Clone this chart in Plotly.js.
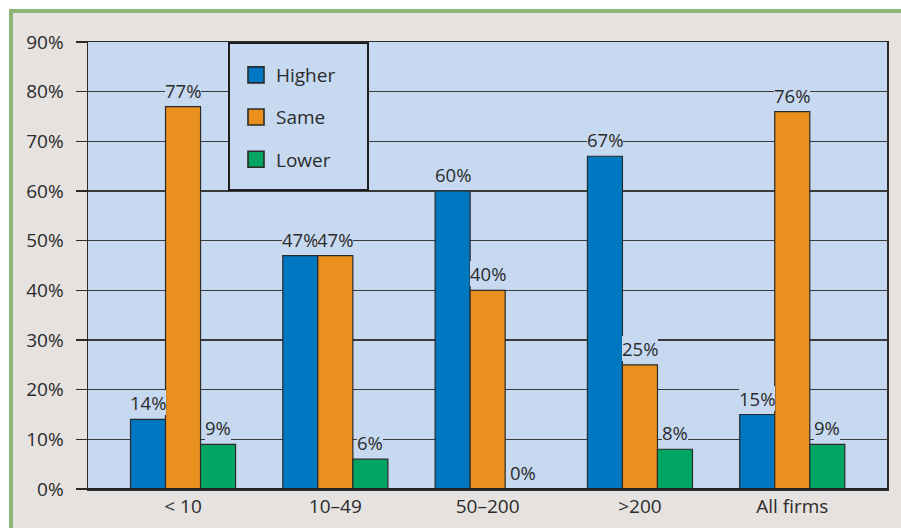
<!DOCTYPE html>
<html>
<head>
<meta charset="utf-8">
<script src="https://cdn.plot.ly/plotly-3.0.1.min.js"></script>
<style>
  html, body { margin: 0; padding: 0; background: #ffffff; }
  #wrap { position: relative; width: 901px; height: 528px; overflow: hidden; background: #ffffff; }
  #frame { position: absolute; left: 9px; top: 9px; right: 0; bottom: 0;
           border-top: 4px solid #8db576; border-left: 4px solid #8db576; background: #e6e2df; }
  #chart { position: absolute; left: 0; top: 0; width: 901px; height: 528px; }
</style>
</head>
<body>
<div id="wrap">
  <div id="frame"></div>
  <div id="chart"></div>
</div>
<script>
// ---- data ----
const categories = ['< 10', '10\u201349', '50\u2013200', '>200', 'All firms'];
const seriesNames = ['Higher', 'Same', 'Lower'];
const higher = [14, 47, 60, 67, 15];
const same   = [77, 47, 40, 25, 76];
const lower  = [9, 6, 0, 8, 9];
const yTickVals = [0, 10, 20, 30, 40, 50, 60, 70, 80, 90];
const yTickText = ['0%', '10%', '20%', '30%', '40%', '50%', '60%', '70%', '80%', '90%'];

// ---- style ----
const colors = ['#0077c1', '#e9901f', '#00a562'];
const plotBg = '#c6d9f1';
const ink = '#2b2b2b';
const FONT = '"Open Sans", "Noto Sans", sans-serif';
const W = 901, H = 528;
const margin = {l: 88, r: 14, t: 42, b: 39};
const xRange = [-0.624, 4.622];
const bargap = 0.31;

const values = [higher, same, lower];
const traces = values.map((v, i) => ({
  type: 'bar', name: seriesNames[i], x: categories, y: v,
  marker: {color: colors[i], line: {color: ink, width: 1.2}},
  showlegend: false, hoverinfo: 'skip'
}));
// legend entries (larger square swatches)
seriesNames.forEach((n, i) => traces.push({
  type: 'scatter', mode: 'markers', name: n, x: [null], y: [null],
  legendgroup: 'g' + i, showlegend: true,
  marker: {symbol: 'square', size: 16, color: colors[i], line: {color: ink, width: 1.6}},
  hoverinfo: 'skip'
}));

// value labels
const plotW = W - margin.l - margin.r;
const pxPerCat = plotW / (xRange[1] - xRange[0]);
const barPx = pxPerCat * (1 - bargap) / 3;
const annotations = [];
values.forEach((v, i) => {
  v.forEach((val, j) => {
    annotations.push({
      x: categories[j], y: val, xref: 'x', yref: 'y',
      text: val + '%', showarrow: false,
      xshift: (i - 1) * barPx, yshift: 4,
      yanchor: 'bottom', xanchor: 'center',
      bgcolor: plotBg, borderpad: 0, borderwidth: 0,
      font: {family: FONT, size: 18.5, color: ink}
    });
  });
});

// legend box (pixel geometry converted to paper coords)
const plotH = H - margin.t - margin.b;
const px2x = p => (p - margin.l) / plotW;
const px2y = p => 1 - (p - margin.t) / plotH;

const layout = {
  width: W, height: H, margin: margin,
  paper_bgcolor: 'rgba(0,0,0,0)', plot_bgcolor: plotBg,
  font: {family: FONT, size: 19, color: ink},
  barmode: 'group', bargap: bargap, bargroupgap: 0,
  xaxis: {
    type: 'category', range: xRange, showgrid: false, ticks: '',
    showline: true, linecolor: ink, linewidth: 1.5, mirror: true,
    tickfont: {family: FONT, size: 19, color: ink}, ticklabelstandoff: 0,
    fixedrange: true
  },
  yaxis: {
    range: [0, 90], tickmode: 'array', tickvals: yTickVals, ticktext: yTickText,
    showgrid: true, gridcolor: '#3a3a3a', gridwidth: 1.2,
    ticks: 'outside', ticklen: 11, tickwidth: 1.5, tickcolor: ink,
    showline: true, linecolor: ink, linewidth: 1.5, mirror: true,
    zeroline: false,
    tickfont: {family: FONT, size: 19, color: ink}, ticklabelstandoff: 8,
    fixedrange: true
  },
  showlegend: true,
  legend: {
    x: px2x(236), y: px2y(56), xanchor: 'left', yanchor: 'top',
    bgcolor: 'rgba(0,0,0,0)', borderwidth: 0,
    traceorder: 'grouped', tracegroupgap: 14.5, itemsizing: 'trace',
    font: {family: FONT, size: 19, color: ink}
  },
  shapes: [
    {type: 'line', xref: 'paper', yref: 'y', x0: 0, x1: 1, y0: 0, y1: 0,
     line: {color: '#1e1e1e', width: 2.2}, layer: 'above'},
    {type: 'rect', xref: 'paper', yref: 'paper',
     x0: px2x(229), x1: px2x(368), y0: px2y(190), y1: px2y(43),
     fillcolor: plotBg, line: {color: '#1e1e1e', width: 2}, layer: 'above'}
  ],
  annotations: annotations
};

Plotly.newPlot('chart', traces, layout, {displayModeBar: false, staticPlot: true});
</script>
</body>
</html>
